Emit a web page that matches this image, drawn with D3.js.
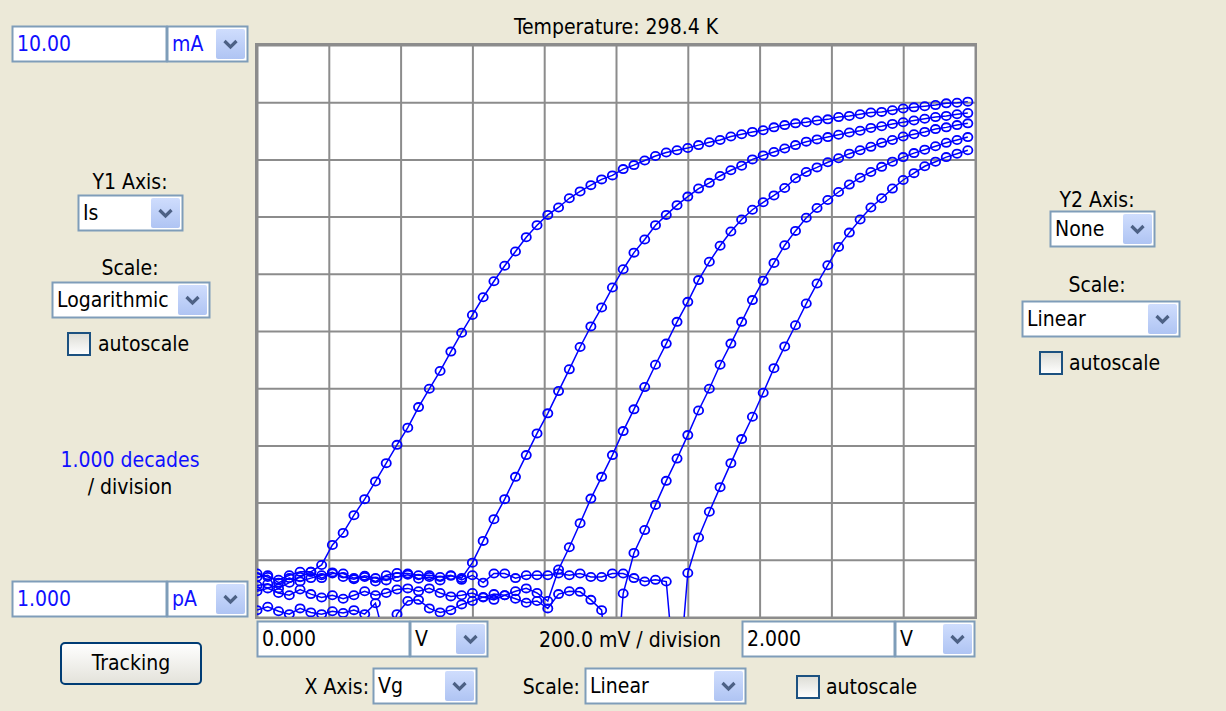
<!DOCTYPE html>
<html>
<head>
<meta charset="utf-8">
<script src="https://cdn.jsdelivr.net/npm/d3@7"></script>
<style>
  body { margin: 0; background: #ECE9D8; }
  svg text { font-family: "DejaVu Sans Condensed", "DejaVu Sans", sans-serif; font-size: 21px; }
</style>
</head>
<body>
<svg id="panel" width="1226" height="711"></svg>
<script>
// Vg sweep (V) and log10(Is / A) for the five sweeps
var vg = [0.00,0.03,0.06,0.09,0.12,0.15,0.18,0.21,0.24,0.27,0.30,0.33,0.36,0.39,0.42,0.45,0.48,0.51,0.54,0.57,
          0.60,0.63,0.66,0.69,0.72,0.75,0.78,0.81,0.84,0.87,0.90,0.93,0.96,0.99,1.02,1.05,1.08,1.11,1.14,1.17,
          1.20,1.23,1.26,1.29,1.32,1.35,1.38,1.41,1.44,1.47,1.50,1.53,1.56,1.59,1.62,1.65,1.68,1.71,1.74,1.77,
          1.80,1.83,1.86,1.89,1.92,1.95,1.98];

var logIs1 = [-11.45,-11.42,-11.50,-11.40,-11.30,-11.21,-11.09,-10.74,-10.53,-10.22,-9.94,-9.63,-9.31,-8.99,-8.69,-8.33,-8.01,-7.70,-7.36,-7.03,
              -6.72,-6.41,-6.13,-5.86,-5.61,-5.36,-5.15,-4.97,-4.84,-4.68,-4.56,-4.45,-4.35,-4.28,-4.17,-4.10,-4.02,-3.94,-3.88,-3.84,
              -3.80,-3.75,-3.70,-3.66,-3.60,-3.56,-3.52,-3.49,-3.44,-3.40,-3.37,-3.35,-3.32,-3.30,-3.26,-3.24,-3.21,-3.18,-3.17,-3.14,
              -3.11,-3.09,-3.07,-3.05,-3.02,-3.01,-2.99];
var logIs2 = [-11.30,-11.27,-11.40,-11.32,-11.38,-11.32,-11.27,-11.22,-11.30,-11.34,-11.28,-11.32,-11.36,-11.30,-11.26,-11.33,-11.30,-11.36,-11.28,-11.32,
              -11.05,-10.67,-10.29,-9.94,-9.55,-9.17,-8.79,-8.44,-8.05,-7.67,-7.28,-6.92,-6.59,-6.24,-5.92,-5.63,-5.40,-5.15,-4.97,-4.80,
              -4.65,-4.51,-4.41,-4.29,-4.19,-4.11,-4.00,-3.93,-3.87,-3.81,-3.75,-3.69,-3.65,-3.61,-3.57,-3.53,-3.50,-3.45,-3.42,-3.38,
              -3.35,-3.32,-3.29,-3.26,-3.24,-3.21,-3.19];
var logIs3 = [-11.55,-11.50,-11.58,-11.62,-11.52,-11.60,-11.66,-11.62,-11.68,-11.62,-11.55,-11.62,-11.58,-11.52,-11.50,-11.55,-11.50,-11.58,-11.64,-11.62,
              -11.58,-11.66,-11.60,-11.62,-11.55,-11.50,-11.58,-11.72,-11.17,-10.78,-10.36,-9.93,-9.55,-9.17,-8.75,-8.37,-7.98,-7.59,-7.22,-6.84,
              -6.49,-6.11,-5.79,-5.51,-5.26,-5.05,-4.88,-4.75,-4.63,-4.50,-4.33,-4.22,-4.14,-4.05,-3.98,-3.90,-3.84,-3.78,-3.71,-3.66,
              -3.60,-3.56,-3.52,-3.47,-3.44,-3.40,-3.37];
var logIs4 = [-11.88,-11.82,-11.90,-11.95,-11.85,-11.92,-11.95,-11.90,-11.93,-11.88,-11.95,-11.76,-12.50,-11.95,-11.72,-11.70,-11.85,-11.92,-11.88,-11.78,
              -11.72,-11.65,-11.70,-11.62,-11.68,-11.75,-11.72,-11.85,-11.60,-11.55,-11.56,-11.70,-11.88,-14.00,-11.59,-10.88,-10.48,-10.04,-9.62,-9.23,
              -8.82,-8.39,-8.01,-7.59,-7.22,-6.84,-6.46,-6.12,-5.81,-5.50,-5.25,-5.02,-4.85,-4.71,-4.57,-4.44,-4.32,-4.22,-4.13,-4.04,
              -3.96,-3.89,-3.83,-3.77,-3.71,-3.66,-3.61];
var logIs5 = [-11.24,-11.30,-11.35,-11.27,-11.21,-11.21,-11.32,-11.24,-11.24,-11.32,-11.30,-11.38,-11.27,-11.23,-11.24,-11.27,-11.27,-11.30,-11.27,-11.35,
              -11.27,-11.40,-11.24,-11.24,-11.32,-11.27,-11.27,-11.27,-11.24,-11.27,-11.24,-11.30,-11.30,-11.24,-11.24,-11.32,-11.38,-11.35,-11.38,-13.50,
              -11.23,-10.61,-10.16,-9.73,-9.31,-8.89,-8.50,-8.08,-7.65,-7.27,-6.90,-6.52,-6.17,-5.85,-5.53,-5.28,-5.05,-4.84,-4.68,-4.51,
              -4.36,-4.24,-4.12,-4.04,-3.96,-3.90,-3.84];

var xTicks = [0,0.2,0.4,0.6,0.8,1.0,1.2,1.4,1.6,1.8,2.0];
var yTicks = [1e-12,1e-11,1e-10,1e-9,1e-8,1e-7,1e-6,1e-5,1e-4,1e-3,1e-2];

var svg = d3.select("#panel");
var L = 257, R = 975, T = 45, B = 617;
var x = d3.scaleLinear().domain([0, 2]).range([L, R]);
var y = d3.scaleLog().domain([1e-12, 1e-2]).range([B, T]);

// gradients for XP-ish widgets
var defs = svg.append("defs");
function grad(id, c1, c2) {
  var g = defs.append("linearGradient").attr("id", id).attr("x1", 0).attr("y1", 0).attr("x2", 0).attr("y2", 1);
  g.append("stop").attr("offset", "0%").attr("stop-color", c1);
  g.append("stop").attr("offset", "100%").attr("stop-color", c2);
}
grad("arrowG", "#CFDDFD", "#AFC4F3");
grad("btnG", "#FFFFFF", "#E3E2DA");
grad("chkG", "#DCDCD5", "#FFFFFF");
defs.append("clipPath").attr("id", "plotClip").append("rect")
  .attr("x", L).attr("y", T).attr("width", R - L).attr("height", B - T);

svg.append("rect").attr("width", 1226).attr("height", 711).attr("fill", "#ECE9D8");

svg.append("text").attr("x", 616).attr("y", 34).attr("text-anchor", "middle").text("Temperature: 298.4 K");

// plot area
svg.append("rect").attr("x", L).attr("y", T).attr("width", R - L).attr("height", B - T).attr("fill", "#fff");

var gx = svg.append("g").attr("transform", "translate(0," + B + ")")
  .call(d3.axisBottom(x).tickValues(xTicks).tickSize(-(B - T)).tickFormat(""));
var gy = svg.append("g").attr("transform", "translate(" + L + ",0)")
  .call(d3.axisLeft(y).tickValues(yTicks).tickSize(-(R - L)).tickFormat(""));
[gx, gy].forEach(function(g) {
  g.select(".domain").remove();
  g.selectAll(".tick line").attr("stroke", "#8c8c8c").attr("stroke-width", 2);
});
svg.append("rect").attr("x", L - 1).attr("y", T - 1).attr("width", R - L + 2).attr("height", B - T + 2)
  .attr("fill", "none").attr("stroke", "#8c8c8c").attr("stroke-width", 2);

var sweeps = [logIs1, logIs2, logIs3, logIs4, logIs5];
var line = d3.line().x(function(d) { return x(d[0]); }).y(function(d) { return y(d[1]); });
var plot = svg.append("g").attr("clip-path", "url(#plotClip)");
sweeps.forEach(function(s) {
  var pts = s.map(function(v, i) { return [vg[i], Math.pow(10, v)]; });
  plot.append("path").datum(pts).attr("d", line)
    .attr("fill", "none").attr("stroke", "#0000FF").attr("stroke-width", 1.5);
  plot.selectAll(null).data(pts).enter().append("ellipse")
    .attr("cx", function(d) { return x(d[0]); })
    .attr("cy", function(d) { return y(d[1]); })
    .attr("rx", 4.6).attr("ry", 4.1)
    .attr("fill", "none").attr("stroke", "#0000FF").attr("stroke-width", 1.8);
});

// widgets
function label(tx, ty, str, anchor, color) {
  svg.append("text").attr("x", tx).attr("y", ty).attr("text-anchor", anchor || "start")
    .attr("fill", color || "#000").text(str);
}
function textBox(bx, by, w, h, str, color) {
  svg.append("rect").attr("x", bx + 0.5).attr("y", by + 0.5).attr("width", w - 1).attr("height", h - 1)
    .attr("fill", "#fff").attr("stroke", "#7F9DB9").attr("stroke-width", 2);
  label(bx + 5, by + h / 2 + 7, str, "start", color);
}
function dropDown(bx, by, w, h, str, color) {
  textBox(bx, by, w, h, str, color);
  var aw = 29;
  svg.append("rect").attr("x", bx + w - aw - 3).attr("y", by + 3).attr("width", aw).attr("height", h - 6)
    .attr("rx", 2).attr("fill", "url(#arrowG)");
  var cx = bx + w - 3 - aw / 2, cy = by + h / 2;
  svg.append("path").attr("d", "M" + (cx - 6) + "," + (cy - 3) + "L" + cx + "," + (cy + 3) + "L" + (cx + 6) + "," + (cy - 3))
    .attr("fill", "none").attr("stroke", "#4D6185").attr("stroke-width", 3.2);
}
function checkBox(bx, by, s) {
  svg.append("rect").attr("x", bx).attr("y", by).attr("width", s).attr("height", s)
    .attr("fill", "url(#chkG)").attr("stroke", "#1C5180").attr("stroke-width", 2);
}

// left column
textBox(12, 26, 155, 36, "10.00", "#1010FF");
dropDown(167, 26, 81, 36, "mA", "#1010FF");
label(130, 189, "Y1 Axis:", "middle");
dropDown(78, 195, 105, 36, "Is");
label(130, 275, "Scale:", "middle");
dropDown(52, 282, 158, 36, "Logarithmic");
checkBox(68, 333, 22);
label(98, 351, "autoscale");
label(130, 467, "1.000 decades", "middle", "#1010FF");
label(130, 494, "/ division", "middle");
textBox(12, 581, 155, 36, "1.000", "#1010FF");
dropDown(167, 581, 81, 36, "pA", "#1010FF");
svg.append("rect").attr("x", 61).attr("y", 643).attr("width", 140).attr("height", 41).attr("rx", 4)
  .attr("fill", "url(#btnG)").attr("stroke", "#003C74").attr("stroke-width", 2);
label(131, 670, "Tracking", "middle");

// bottom rows
textBox(257, 621, 153, 36, "0.000");
dropDown(410, 621, 78, 36, "V");
label(630, 647, "200.0 mV / division", "middle");
textBox(742, 621, 153, 36, "2.000");
dropDown(895, 621, 80, 36, "V");
label(369, 694, "X Axis:", "end");
dropDown(373, 668, 104, 36, "Vg");
label(580, 694, "Scale:", "end");
dropDown(585, 668, 161, 36, "Linear");
checkBox(797, 676, 22);
label(826, 694, "autoscale");

// right column
label(1097, 207, "Y2 Axis:", "middle");
dropDown(1050, 211, 105, 36, "None");
label(1097, 292, "Scale:", "middle");
dropDown(1022, 301, 158, 36, "Linear");
checkBox(1040, 352, 22);
label(1069, 370, "autoscale");
</script>
</body>
</html>
